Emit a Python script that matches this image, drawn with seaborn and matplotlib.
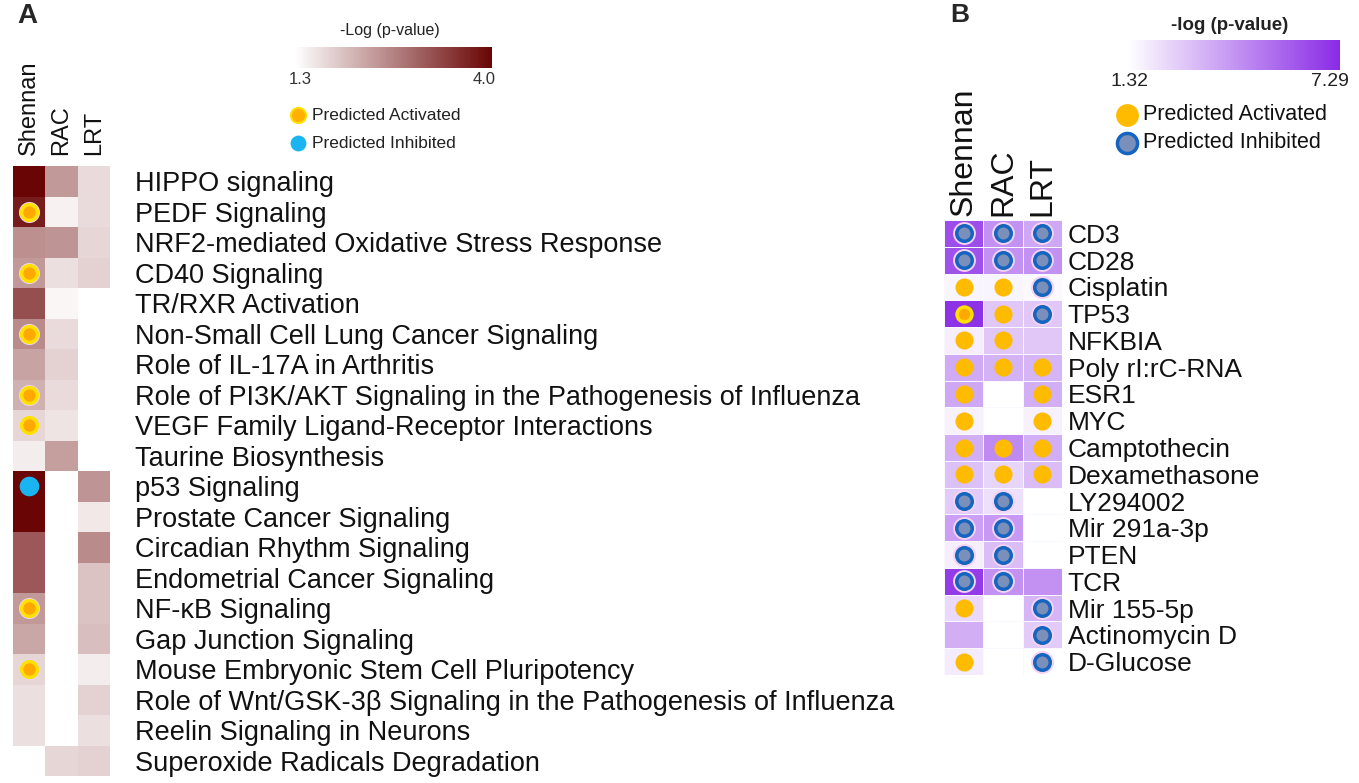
import numpy as np
import pandas as pd
import matplotlib
matplotlib.use("Agg")
import matplotlib.pyplot as plt
import seaborn as sns
from matplotlib.colors import LinearSegmentedColormap

sns.set_theme(style="white")
plt.rcParams['font.family'] = ['Liberation Sans', 'DejaVu Sans']

# ---------------- data ----------------
columns = ["Shennan", "RAC", "LRT"]

pathways_a = [
    "HIPPO signaling", "PEDF Signaling", "NRF2-mediated Oxidative Stress Response",
    "CD40 Signaling", "TR/RXR Activation", "Non-Small Cell Lung Cancer Signaling",
    "Role of IL-17A in Arthritis",
    "Role of PI3K/AKT Signaling in the Pathogenesis of Influenza",
    "VEGF Family Ligand-Receptor Interactions", "Taurine Biosynthesis",
    "p53 Signaling", "Prostate Cancer Signaling", "Circadian Rhythm Signaling",
    "Endometrial Cancer Signaling", "NF-κB Signaling", "Gap Junction Signaling",
    "Mouse Embryonic Stem Cell Pluripotency",
    "Role of Wnt/GSK-3β Signaling in the Pathogenesis of Influenza",
    "Reelin Signaling in Neurons", "Superoxide Radicals Degradation",
]
nan = np.nan
shennan_a = [4.0, 3.75, 2.5, 2.4, 3.2, 2.55, 2.3, 2.15, 1.75, 1.5,
             4.0, 4.0, 3.1, 3.1, 2.4, 2.25, 1.75, 1.65, 1.65, nan]
rac_a = [2.4, 1.45, 2.45, 1.65, 1.4, 1.7, 1.8, 1.7, 1.6, 2.35,
         nan, nan, nan, nan, nan, nan, nan, nan, nan, 1.75]
lrt_a = [1.7, 1.7, 1.75, 1.8, nan, nan, nan, nan, nan, nan,
         2.45, 1.55, 2.55, 1.95, 1.95, 2.0, 1.5, 1.8, 1.65, 1.8]
calls_shennan_a = ["", "A", "", "A", "", "A", "", "A", "A", "",
                   "I", "", "", "", "A", "", "A", "", "", ""]

regulators_b = [
    "CD3", "CD28", "Cisplatin", "TP53", "NFKBIA", "Poly rI:rC-RNA", "ESR1", "MYC",
    "Camptothecin", "Dexamethasone", "LY294002", "Mir 291a-3p", "PTEN", "TCR",
    "Mir 155-5p", "Actinomycin D", "D-Glucose",
]
shennan_b = [6.3, 6.2, 1.6, 7.1, 1.8, 3.7, 3.8, 1.75, 3.6, 3.1, 2.8, 4.0, 1.8, 6.8, 2.4, 3.6, 1.9]
rac_b = [4.4, 4.4, 1.6, 2.9, 2.9, 3.5, nan, nan, 4.6, 2.5, 2.2, 4.2, 3.2, 4.4, nan, nan, nan]
lrt_b = [3.8, 4.4, 1.5, 2.9, 2.9, 3.4, 3.6, 1.75, 3.6, 3.2, nan, nan, nan, 4.4, 3.4, 2.8, nan]
calls_shennan_b = ["I", "I", "A", "Y", "A", "A", "A", "A", "A", "A", "I", "I", "I", "I", "A", "", "A"]
calls_rac_b = ["I", "I", "A", "A", "A", "A", "", "", "A", "A", "I", "I", "I", "I", "", "", ""]
calls_lrt_b = ["I", "I", "I", "I", "", "A", "A", "A", "A", "A", "", "", "", "", "I", "I", "I"]

range_a = (1.3, 4.0)
range_b = (1.32, 7.29)

# ---------------- figure ----------------
W, H = 1359, 783
fig = plt.figure(figsize=(W / 100, H / 100), dpi=100)
fig.patch.set_facecolor("white")


def rect(x0, y0, x1, y1):
    return [x0 / W, 1 - y1 / H, (x1 - x0) / W, (y1 - y0) / H]


cmap_a = LinearSegmentedColormap.from_list("wr", ["#ffffff", "#6a0505"])
cmap_b = LinearSegmentedColormap.from_list("wp", ["#ffffff", "#8a2be6"])

df_a = pd.DataFrame({"Shennan": shennan_a, "RAC": rac_a, "LRT": lrt_a}, index=pathways_a)
df_b = pd.DataFrame({"Shennan": shennan_b, "RAC": rac_b, "LRT": lrt_b}, index=regulators_b)

# Panel A heatmap
axA = fig.add_axes(rect(13, 166, 110, 776))
sns.heatmap(df_a, ax=axA, cmap=cmap_a, vmin=range_a[0], vmax=range_a[1], cbar=False,
            linewidths=0, xticklabels=True, yticklabels=True)
axA.xaxis.tick_top()
axA.yaxis.tick_right()
axA.set_xticklabels(columns, rotation=90, fontsize=17, color="#111111")
axA.set_yticklabels(pathways_a, rotation=0, fontsize=19.5, ha="left", color="#111111")
axA.tick_params(axis="x", length=0, pad=8)
axA.tick_params(axis="y", length=0, pad=18)
for i, c in enumerate(calls_shennan_a):
    if c == "A":
        axA.scatter(0.5, i + 0.5, s=230, color="#e8d6f5", zorder=3, linewidths=0)
        axA.scatter(0.5, i + 0.5, s=130, facecolor="#ffa800", edgecolor="#ffe000",
                    linewidths=2.5, zorder=4)
    elif c == "I":
        axA.scatter(0.5, i + 0.5, s=200, marker="o", color="#1ab4f0", zorder=4, linewidths=0)

# Panel B heatmap
axB = fig.add_axes(rect(944, 220, 1062, 675))
sns.heatmap(df_b, ax=axB, cmap=cmap_b, vmin=range_b[0], vmax=range_b[1], cbar=False,
            linewidths=0.6, linecolor="#fbf7fe", xticklabels=True, yticklabels=True)
axB.xaxis.tick_top()
axB.yaxis.tick_right()
axB.set_xticklabels(columns, rotation=90, fontsize=23, color="#111111")
axB.set_yticklabels(regulators_b, rotation=0, fontsize=19, ha="left", color="#111111")
axB.tick_params(axis="x", length=0, pad=3)
axB.tick_params(axis="y", length=0, pad=4)
for j, calls in enumerate([calls_shennan_b, calls_rac_b, calls_lrt_b]):
    for i, c in enumerate(calls):
        x, y = j + 0.5, i + 0.5
        if c == "A":
            axB.scatter(x, y, s=170, color="#ffbb00", linewidths=0, zorder=4)
        elif c == "Y":
            axB.scatter(x, y, s=115, facecolor="#ffa800", edgecolor="#ffe000",
                        linewidths=2.5, zorder=4)
        elif c == "I":
            axB.scatter(x, y, s=270, color="#f3d2f3", linewidths=0, zorder=3)
            axB.scatter(x, y, s=125, facecolor="#7a8fba", edgecolor="#1565c0",
                        linewidths=2.5, zorder=4)

# colorbars
def gradient_bar(box, cmap, rng):
    cax = fig.add_axes(rect(*box))
    grad = np.linspace(rng[0], rng[1], 256).reshape(1, -1)
    cax.imshow(grad, aspect="auto", cmap=cmap, vmin=rng[0], vmax=rng[1],
               extent=[rng[0], rng[1], 0, 1])
    cax.set_axis_off()
    return cax

gradient_bar((295, 47, 492, 68), cmap_a, range_a)
gradient_bar((1128, 40, 1340, 70), cmap_b, range_b)

# overlay for texts and legend markers, pixel coordinates
ov = fig.add_axes([0, 0, 1, 1], zorder=10)
ov.set_xlim(0, W)
ov.set_ylim(H, 0)
ov.set_axis_off()
ov.patch.set_alpha(0)

ov.text(27, 16, "A", fontsize=20, fontweight="bold", ha="center", va="center")
ov.text(960, 15, "B", fontsize=19, fontweight="bold", ha="center", va="center")

ov.text(390, 30, "-Log (p-value)", fontsize=11.5, ha="center", va="center", color="#222222")
ov.text(300, 80, f"{range_a[0]:.1f}", fontsize=12, ha="center", va="center", color="#333333")
ov.text(484, 80, f"{range_a[1]:.1f}", fontsize=12, ha="center", va="center", color="#333333")
ov.scatter([298], [115], s=120, color="#ffb000", edgecolor="#ffe000", linewidths=1.5)
ov.scatter([298], [143], s=130, color="#1ab4f0", linewidths=0)
ov.text(312, 115, "Predicted Activated", fontsize=12.5, ha="left", va="center", color="#222222")
ov.text(312, 143, "Predicted Inhibited", fontsize=12.5, ha="left", va="center", color="#222222")

ov.text(1230, 26, "-log (p-value)", fontsize=13.5, fontweight="bold", ha="center", va="center",
        color="#222222")
ov.text(1130, 82, f"{range_b[0]:.2f}", fontsize=14, ha="center", va="center", color="#222222")
ov.text(1330, 82, f"{range_b[1]:.2f}", fontsize=14, ha="center", va="center", color="#222222")
ov.scatter([1127], [115], s=270, color="#ffbb00", linewidths=0)
ov.scatter([1127], [143], s=210, facecolor="#7a8fba", edgecolor="#1565c0", linewidths=2.5)
ov.text(1143, 115, "Predicted Activated", fontsize=15.5, ha="left", va="center", color="#111111")
ov.text(1143, 143, "Predicted Inhibited", fontsize=15.5, ha="left", va="center", color="#111111")

fig.savefig("out.png", dpi=100, facecolor="white")
